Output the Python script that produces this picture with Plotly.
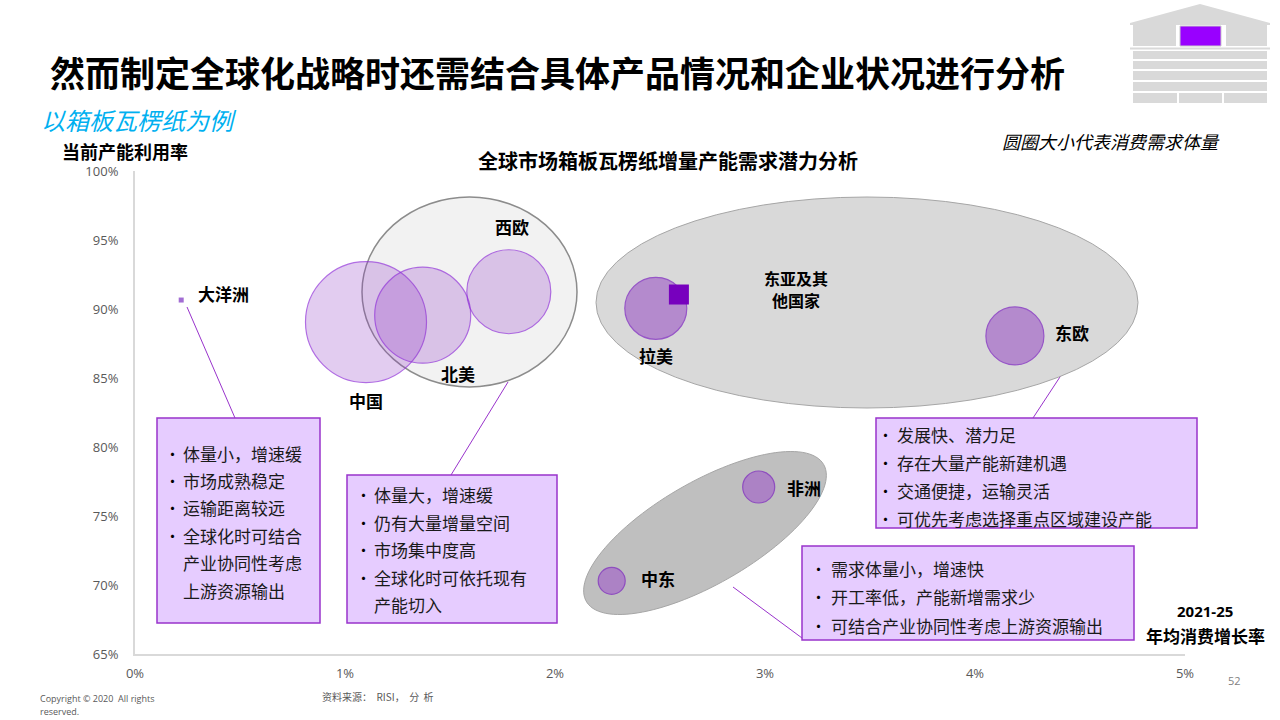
import numpy as np
import plotly.graph_objects as go

# ---------------- data ----------------
regions = ["大洋洲", "中国", "北美", "西欧", "拉美", "东欧", "非洲", "中东"]
growth_pct = [0.22, 1.10, 1.37, 1.78, 2.48, 4.19, 2.97, 2.27]        # 2021-25 年均消费增长率 (%)
utilization_pct = [90.65, 89.05, 89.55, 91.25, 90.05, 88.05, 77.1, 70.3]  # 当前产能利用率 (%)
demand_volume = [5, 121, 96, 84, 62, 58, 32, 27]                      # 圆圈大小 = 消费需求体量 (相对)
light_group = ["中国", "北美", "西欧"]

marker_x = [2.59]
marker_y = [91.05]

x_ticks = [0, 1, 2, 3, 4, 5]
y_ticks = [65, 70, 75, 80, 85, 90, 95, 100]

box_oceania = [("体量小，增速缓", True), ("市场成熟稳定", True), ("运输距离较远", True),
               ("全球化时可结合", True), ("产业协同性考虑", False), ("上游资源输出", False)]
box_namerica = [("体量大，增速缓", True), ("仍有大量增量空间", True), ("市场集中度高", True),
                ("全球化时可依托现有", True), ("产能切入", False)]
box_eeurope = [("发展快、潜力足", True), ("存在大量产能新建机遇", True), ("交通便捷，运输灵活", True),
               ("可优先考虑选择重点区域建设产能", True)]
box_meast = [("需求体量小，增速快", True), ("开工率低，产能新增需求少", True), ("可结合产业协同性考虑上游资源输出", True)]

# ---------------- layout helpers (pixel -> coords) ----------------
W, H = 1280, 720
L, R, T, B = 135, 1185, 171, 654
XMIN, XMAX, YMIN, YMAX = 0, 5, 65, 100


def px(x):
    return (x - L) / (R - L)


def py(y):
    return (B - y) / (B - T)


def dx(x):
    return XMIN + (x - L) / (R - L) * (XMAX - XMIN)


def dy(y):
    return YMAX - (y - T) / (B - T) * (YMAX - YMIN)


CJK = "Noto Sans CJK SC"
PURPLE_LINE = "#9933CC"

fig = go.Figure()

shapes = []
annotations = []

# ---- grey group ellipses ----
shapes.append(dict(type="circle", xref="x", yref="y", x0=dx(362), x1=dx(577), y0=dy(387), y1=dy(197),
                   fillcolor="#F2F2F2", line=dict(color="#8C8C8C", width=1.5), layer="below"))
shapes.append(dict(type="circle", xref="x", yref="y", x0=dx(596), x1=dx(1138), y0=dy(408), y1=dy(197),
                   fillcolor="#D9D9D9", line=dict(color="#A6A6A6", width=1), layer="below"))
# tilted ellipse (非洲 / 中东)
cx, cy, a, b, th = 705, 533, 137, 51, np.deg2rad(30)
t = np.linspace(0, 2 * np.pi, 120)
ex = cx + a * np.cos(t) * np.cos(th) - b * np.sin(t) * np.sin(th)
ey = cy - (a * np.cos(t) * np.sin(th) + b * np.sin(t) * np.cos(th))
path = "M " + " L ".join(f"{dx(u):.5f},{dy(v):.5f}" for u, v in zip(ex, ey)) + " Z"
shapes.append(dict(type="path", xref="x", yref="y", path=path,
                   fillcolor="#BFBFBF", line=dict(color="#A6A6A6", width=1), layer="below"))

# ---- connector lines ----
for (x0, y0, x1, y1) in [(187, 307, 235, 418), (508, 382, 451, 475),
                         (1077, 351, 1033, 418), (733, 587, 802, 638)]:
    shapes.append(dict(type="line", xref="paper", yref="paper", x0=px(x0), y0=py(y0), x1=px(x1), y1=py(y1),
                       line=dict(color=PURPLE_LINE, width=1), layer="below"))


# ---- callout boxes ----
def add_box(x0, y0, x1, y1, lines, first_y, step, bullet_x, text_x):
    shapes.append(dict(type="rect", xref="paper", yref="paper", x0=px(x0), y0=py(y1), x1=px(x1), y1=py(y0),
                       fillcolor="#E6CCFF", line=dict(color=PURPLE_LINE, width=1.5), layer="below"))
    for i, (txt, bul) in enumerate(lines):
        yy = first_y + i * step
        if bul:
            annotations.append(dict(xref="paper", yref="paper", x=px(bullet_x), y=py(yy), text="•",
                                    showarrow=False, xanchor="center", yanchor="middle",
                                    font=dict(family=CJK, size=15, color="#000000")))
        annotations.append(dict(xref="paper", yref="paper", x=px(text_x), y=py(yy), text=txt,
                                showarrow=False, xanchor="left", yanchor="middle",
                                font=dict(family=CJK, size=17, color="#1a1a1a")))


add_box(157, 418, 320, 623, box_oceania, 453, 27.4, 172, 181)
add_box(347, 475, 557, 623, box_namerica, 495, 27.4, 363, 372)
add_box(876, 418, 1197, 528, box_eeurope, 435, 27.7, 885, 895)
add_box(802, 546, 1134, 640, box_meast, 568, 28.5, 818, 829)

# ---- bubbles ----
li = [i for i, r in enumerate(regions) if r in light_group]
di = [i for i, r in enumerate(regions) if r not in light_group and demand_volume[i] > 10]
oi = [i for i, r in enumerate(regions) if demand_volume[i] <= 10]

fig.add_trace(go.Scatter(
    x=[growth_pct[i] for i in li], y=[utilization_pct[i] for i in li], mode="markers",
    marker=dict(size=[demand_volume[i] for i in li], sizemode="diameter",
                color="rgba(145,55,200,0.36)", line=dict(color="#9030D8", width=1.2)),
    hoverinfo="skip", showlegend=False))
fig.add_trace(go.Scatter(
    x=[growth_pct[i] for i in di], y=[utilization_pct[i] for i in di], mode="markers",
    marker=dict(size=[demand_volume[i] for i in di], sizemode="diameter",
                color="#A569C8", line=dict(color="#7B1FC0", width=1.2)),
    hoverinfo="skip", showlegend=False))
fig.add_trace(go.Scatter(
    x=[growth_pct[i] for i in oi], y=[utilization_pct[i] for i in oi], mode="markers",
    marker=dict(size=[demand_volume[i] for i in oi], symbol="square", color="#7B2FC0", line=dict(width=0)),
    hoverinfo="skip", showlegend=False))
fig.add_trace(go.Scatter(
    x=marker_x, y=marker_y, mode="markers",
    marker=dict(size=20, symbol="square", color="#7700BE", line=dict(width=0)),
    hoverinfo="skip", showlegend=False))

# ---- bubble labels (pixel offsets) ----
label_offsets = {"大洋洲": (42, 7), "中国": (0, -78), "北美": (35, -58), "西欧": (3, 65),
                 "拉美": (0, -47), "东欧": (57, 3), "非洲": (45, 0), "中东": (46, 2)}
for r, xv, yv in zip(regions, growth_pct, utilization_pct):
    ox, oy = label_offsets[r]
    annotations.append(dict(x=xv, y=yv, xref="x", yref="y", text=f"<b>{r}</b>", showarrow=False,
                            xshift=ox, yshift=oy, xanchor="center", yanchor="middle",
                            font=dict(family=CJK, size=17, color="#000000")))
annotations.append(dict(xref="paper", yref="paper", x=px(796), y=py(264), text="<b>东亚及其</b>",
                        showarrow=False, font=dict(family=CJK, size=16, color="#000000")))
annotations.append(dict(xref="paper", yref="paper", x=px(796), y=py(286), text="<b>他国家</b>",
                        showarrow=False, font=dict(family=CJK, size=16, color="#000000")))

# ---- titles and texts ----
annotations += [
    dict(xref="paper", yref="paper", x=px(48), y=py(72), xanchor="left", yanchor="middle", showarrow=False,
         text="<b>然而制定全球化战略时还需结合具体产品情况和企业状况进行分析</b>",
         font=dict(family=CJK, size=35, color="#000000")),
    dict(xref="paper", yref="paper", x=px(40), y=py(119), xanchor="left", yanchor="middle", showarrow=False,
         text="<i>以箱板瓦楞纸为例</i>", font=dict(family=CJK, size=24, color="#00B0F0"), borderpad=0),
    dict(xref="paper", yref="paper", x=px(61), y=py(151), xanchor="left", yanchor="middle", showarrow=False,
         text="<b>当前产能利用率</b>", font=dict(family=CJK, size=18, color="#000000"), borderpad=0),
    dict(xref="paper", yref="paper", x=px(668), y=py(160), xanchor="center", yanchor="middle", showarrow=False,
         text="<b>全球市场箱板瓦楞纸增量产能需求潜力分析</b>", font=dict(family=CJK, size=20, color="#000000")),
    dict(xref="paper", yref="paper", x=px(1222), y=py(141), xanchor="right", yanchor="middle", showarrow=False,
         text="<i>圆圈大小代表消费需求体量</i>", font=dict(family=CJK, size=18, color="#000000")),
    dict(xref="paper", yref="paper", x=px(1205), y=py(611), xanchor="center", yanchor="middle", showarrow=False,
         text="<b>2021-25</b>", font=dict(family="Open Sans", size=15, color="#000000")),
    dict(xref="paper", yref="paper", x=px(1205), y=py(635), xanchor="center", yanchor="middle", showarrow=False,
         text="<b>年均消费增长率</b>", font=dict(family=CJK, size=17, color="#000000")),
    dict(xref="paper", yref="paper", x=px(1234), y=py(680), xanchor="center", yanchor="middle", showarrow=False,
         text="52", font=dict(family="Open Sans", size=11, color="#7F7F7F")),
    dict(xref="paper", yref="paper", x=px(38), y=py(698), xanchor="left", yanchor="middle", showarrow=False,
         text="Copyright © 2020  All rights", font=dict(family="Open Sans", size=9, color="#595959")),
    dict(xref="paper", yref="paper", x=px(38), y=py(711), xanchor="left", yanchor="middle", showarrow=False,
         text="reserved.", font=dict(family="Open Sans", size=9, color="#595959")),
    dict(xref="paper", yref="paper", x=px(320), y=py(696), xanchor="left", yanchor="middle", showarrow=False,
         text="资料来源：  RISI，  分  析", font=dict(family=CJK, size=10, color="#595959")),
]

# ---- logo (top right) ----
LG = "#D9D9D9"
logo = [
    dict(type="path", path=f"M {px(1130)},{py(23)} L {px(1200)},{py(4)} L {px(1270)},{py(23)} Z"),
    dict(type="rect", x0=px(1133), x1=px(1176), y0=py(46), y1=py(25)),
    dict(type="rect", x0=px(1226), x1=px(1267), y0=py(46), y1=py(25)),
    dict(type="rect", x0=px(1133), x1=px(1267), y0=py(59), y1=py(51)),
    dict(type="rect", x0=px(1133), x1=px(1267), y0=py(69), y1=py(61)),
    dict(type="rect", x0=px(1133), x1=px(1267), y0=py(80), y1=py(71)),
    dict(type="rect", x0=px(1133), x1=px(1267), y0=py(91), y1=py(82)),
    dict(type="rect", x0=px(1133), x1=px(1177), y0=py(103), y1=py(93)),
    dict(type="rect", x0=px(1179), x1=px(1222), y0=py(103), y1=py(93)),
    dict(type="rect", x0=px(1224), x1=px(1267), y0=py(103), y1=py(93)),
]
for s in logo:
    s.update(xref="paper", yref="paper", fillcolor=LG, line=dict(width=0))
    shapes.append(s)
for yy in (24, 48.5):
    shapes.append(dict(type="line", xref="paper", yref="paper", x0=px(1130), x1=px(1270), y0=py(yy), y1=py(yy),
                       line=dict(color=LG, width=2)))
shapes.append(dict(type="rect", xref="paper", yref="paper", x0=px(1180), x1=px(1221), y0=py(46), y1=py(26),
                   fillcolor="#9900FF", line=dict(color="#C9C9C9", width=1)))

fig.update_layout(
    width=W, height=H,
    margin=dict(l=L, r=W - R, t=T, b=H - B, pad=0),
    paper_bgcolor="white", plot_bgcolor="white",
    shapes=shapes, annotations=annotations,
    showlegend=False,
    xaxis=dict(range=[XMIN, XMAX], tickvals=x_ticks, ticktext=[f"{v}%" for v in x_ticks],
               showgrid=False, zeroline=False, showline=True, linecolor="#D9D9D9", linewidth=2,
               ticks="", ticklabelstandoff=6, tickfont=dict(family="Open Sans", size=13, color="#595959"),
               fixedrange=True),
    yaxis=dict(range=[YMIN, YMAX], tickvals=y_ticks, ticktext=[f"{v}%" for v in y_ticks],
               showgrid=False, zeroline=False, showline=True, linecolor="#D9D9D9", linewidth=2,
               ticks="", ticklabelstandoff=12, tickfont=dict(family="Open Sans", size=13, color="#595959"),
               fixedrange=True),
)

fig.write_html("out.html", config={"displayModeBar": False},
               post_script="document.body.style.margin='0px';document.body.style.overflow='hidden';")
